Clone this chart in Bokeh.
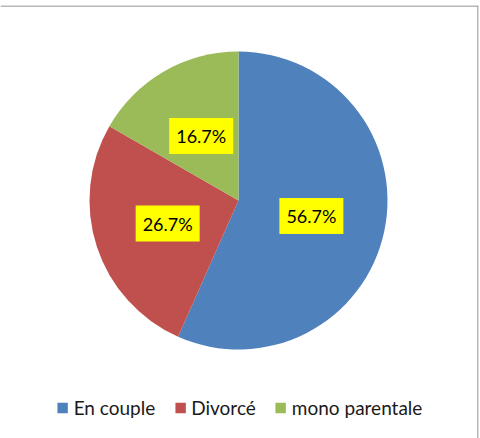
import math
from bokeh.plotting import figure
from bokeh.models import ColumnDataSource, Range1d, Legend, LegendItem, Span
from bokeh.core.properties import value
from bokeh.embed import file_html
from bokeh.resources import INLINE

# données du camembert
categories = ["En couple", "Divorcé", "mono parentale"]
pourcentages = [56.7, 26.7, 16.7]
couleurs = ["#4F81BD", "#C0504D", "#9BBB59"]

W, H = 479, 438
TOP = 5
cx, cy, rayon = 238, 238, 149

# angles : départ à midi, sens horaire
total = sum(pourcentages)
starts, ends, lx, ly, labels = [], [], [], [], []
acc = 0.0
for v in pourcentages:
    a0 = math.pi / 2 - 2 * math.pi * acc / total
    acc += v
    a1 = math.pi / 2 - 2 * math.pi * acc / total
    starts.append(a0)
    ends.append(a1)
    mid = (a0 + a1) / 2
    lx.append(cx + 0.5 * rayon * math.cos(mid))
    ly.append(cy + 0.5 * rayon * math.sin(mid))
    labels.append(f"{v:.1f}%")

source = ColumnDataSource(data=dict(
    cat=categories, start=starts, end=ends, color=couleurs,
    lx=lx, ly=ly, label=labels,
))

p = figure(width=W, height=H, output_backend="svg", toolbar_location=None,
           x_range=Range1d(0, W - 1), y_range=Range1d(0, H - TOP),
           min_border_left=0, min_border_bottom=0,
           min_border_top=TOP, min_border_right=1)
p.axis.visible = False
p.grid.visible = False
p.outline_line_color = None

# cadre : seuls les bords haut et droit sont visibles dans l'image
p.add_layout(Span(location=H - TOP - 0.5, dimension="width",
                  line_color="#A0A0A0", line_width=1.5))
p.add_layout(Span(location=W - 1.5, dimension="height",
                  line_color="#A0A0A0", line_width=1.5))

w = p.wedge(x=cx, y=cy, radius=rayon, radius_units="screen",
            start_angle="start", end_angle="end", direction="clock",
            fill_color="color", line_color=None, source=source)

p.text(x="lx", y="ly", text="label", source=source,
       text_align="center", text_baseline="middle",
       text_font=value("Lato"), text_font_size="18px", text_color="black",
       background_fill_color="#FFFF00", padding=7)

items = [LegendItem(label=c, renderers=[w], index=i) for i, c in enumerate(categories)]
legend = Legend(items=items, orientation="horizontal", location="bottom_center",
                glyph_width=13, glyph_height=13, label_text_font="Lato",
                label_text_font_size="19px", label_text_color="#1A1A1A",
                border_line_color=None, background_fill_alpha=0,
                spacing=18, margin=19, padding=0, label_standoff=5)
p.add_layout(legend)

open("out.html", "w").write(file_html(p, INLINE))
